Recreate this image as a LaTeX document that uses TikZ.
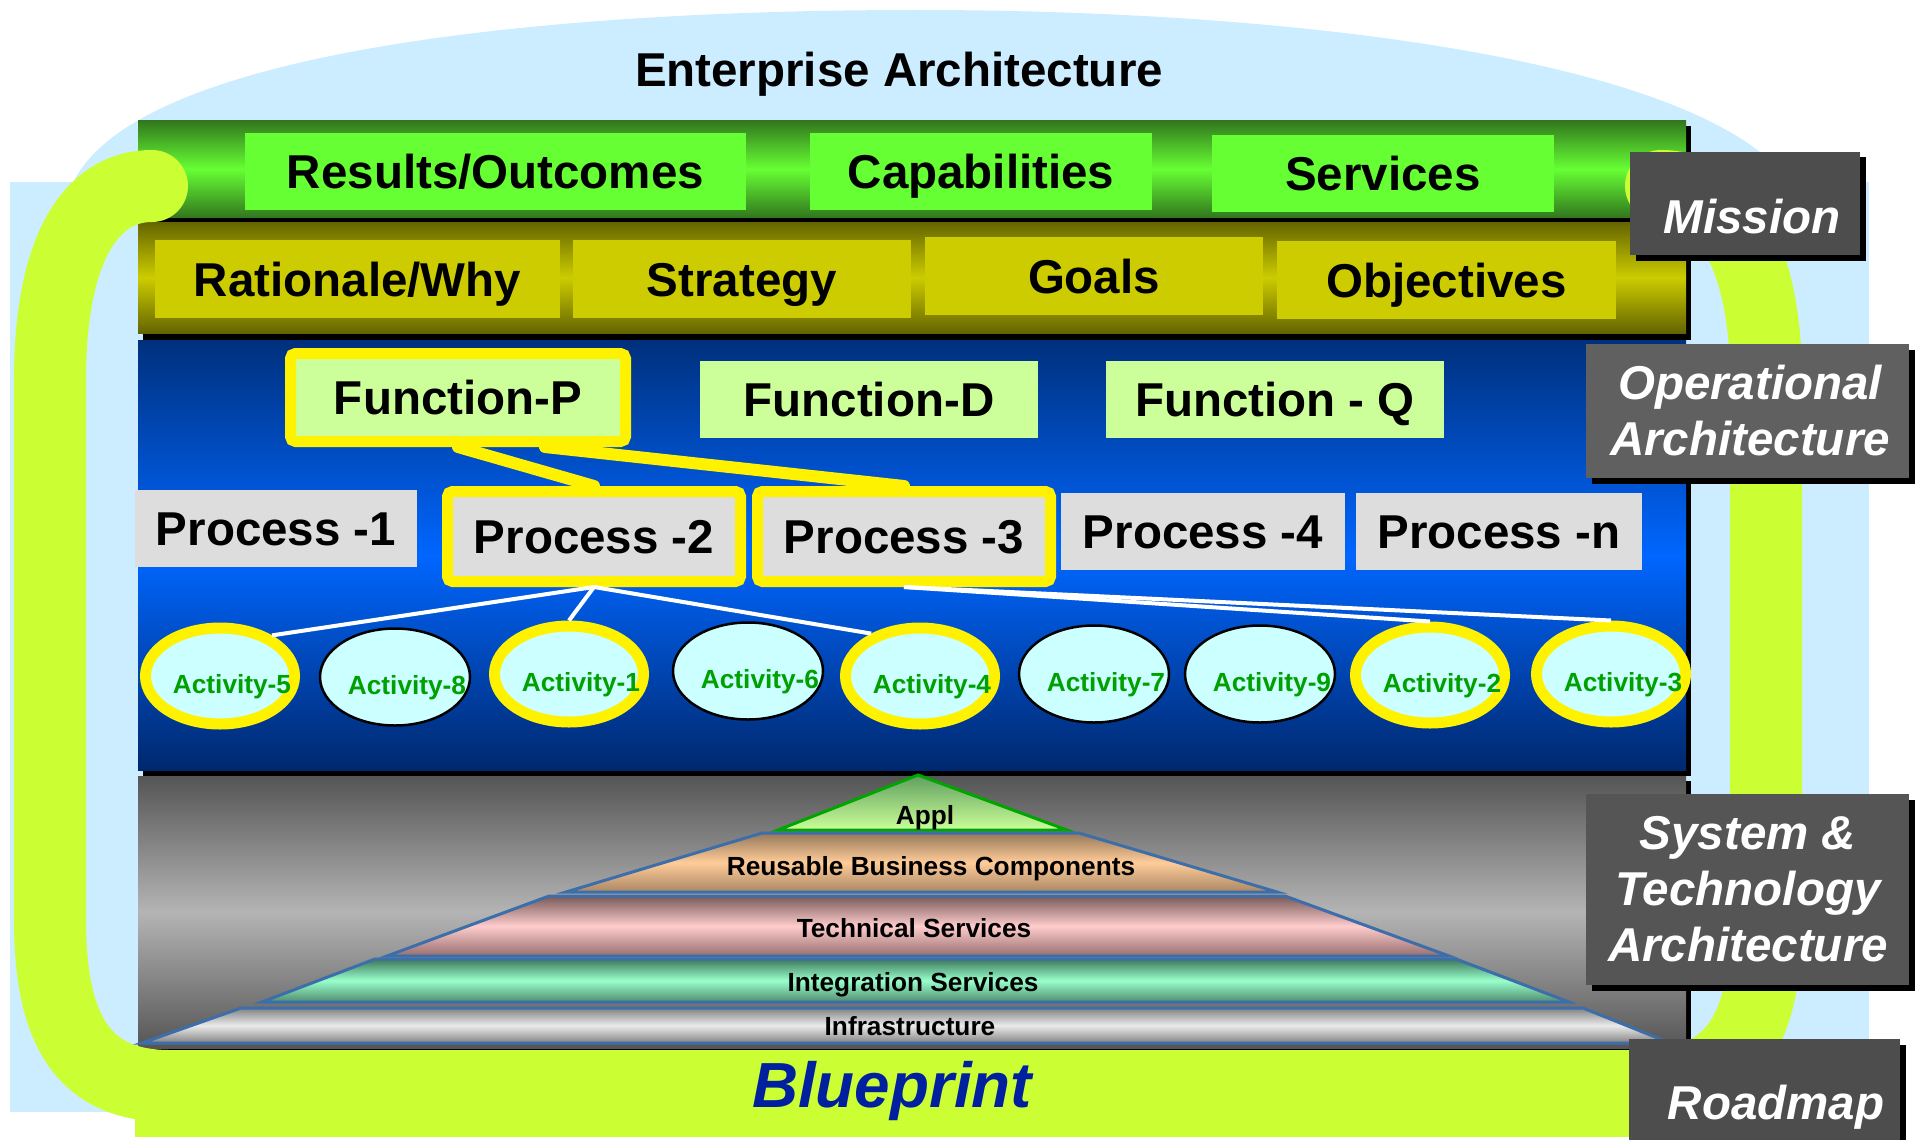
\documentclass[tikz,border=0pt]{standalone}
\usepackage{fontspec}
\setmainfont{Liberation Sans}
\usetikzlibrary{shapes.geometric,calc,shadows}

\definecolor{skyback}{RGB}{204,236,255}
\definecolor{loopgreen}{RGB}{204,255,51}
\definecolor{barlight}{RGB}{102,255,51}
\definecolor{bardark}{RGB}{50,120,30}
\definecolor{olivelight}{RGB}{204,204,0}
\definecolor{olivedark}{RGB}{100,100,0}
\definecolor{bluetop}{RGB}{0,48,125}
\definecolor{bluemid}{RGB}{0,102,255}
\definecolor{bluebot}{RGB}{0,40,110}
\definecolor{graydark}{RGB}{85,85,85}
\definecolor{graylight}{RGB}{180,180,180}
\definecolor{funcfill}{RGB}{204,255,153}
\definecolor{procfill}{RGB}{221,221,221}
\definecolor{actfill}{RGB}{204,255,255}
\definecolor{acttext}{RGB}{0,160,0}
\definecolor{pyredge}{RGB}{60,110,170}
\definecolor{printblue}{RGB}{0,32,160}
\definecolor{tagdark}{RGB}{77,77,77}
\definecolor{tagmid}{RGB}{96,96,96}
\definecolor{tagsys}{RGB}{85,85,85}

\tikzset{
  bigtext/.style={font=\fontsize{19}{22.4}\selectfont\bfseries, text height=13.6pt, text depth=0pt, inner sep=0pt},
  smalltext/.style={font=\fontsize{10.5}{12}\selectfont\bfseries, text height=7.5pt, text depth=0pt, inner sep=0pt},
  mbox/.style={bigtext, fill=barlight, minimum height=30.8pt},
  rbox/.style={bigtext, fill=olivelight, minimum height=31.2pt},
  fbox/.style={bigtext, fill=funcfill, minimum width=135.2pt, minimum height=30.8pt},
  fsel/.style={fbox, draw=yellow, line width=4.4pt, rounded corners=2pt, minimum width=134pt, minimum height=35.2pt},
  pbox/.style={bigtext, fill=procfill, minimum height=30.8pt},
  psel/.style={pbox, draw=yellow, line width=4.4pt, rounded corners=2pt, minimum width=117.2pt, minimum height=36pt},
  act/.style={ellipse, fill=actfill, draw=black, line width=1pt, minimum width=60pt, minimum height=38.8pt, inner sep=0pt},
  actsel/.style={act, draw=yellow, line width=4.4pt, minimum width=59.6pt, minimum height=38.4pt},
  acttxt/.style={smalltext, text=acttext, xshift=4.8pt, yshift=-3.2pt},
  fline/.style={yellow, line width=4.8pt, line cap=round},
  aline/.style={white, line width=1.6pt},
  layer/.style={draw=pyredge, line width=1.2pt},
  tagbox/.style={inner sep=0pt, general shadow={fill=black, shadow xshift=2.4pt, shadow yshift=-2.2pt}},
  tagtext/.style={text=white, font=\fontsize{19}{22.4}\selectfont\bfseries\itshape, align=center, inner sep=0pt}
}

\begin{document}
\begin{tikzpicture}[x=0.4pt, y=-0.4pt]
  % \draw[help lines, step=100] (0,0) grid (1917,1139);
  \useasboundingbox (0,0) rectangle (1917,1139);

  \fill[skyback] (67,400) -- (67,200) .. controls (100,60) and (500,10) .. (917,10) .. controls (1300,10) and (1700,60) .. (1790,182) -- (1790,400) -- cycle;
  \fill[skyback] (10,182) rectangle (1869,1112);
  \node[bigtext] (title) at (899,69.5) {Enterprise Architecture};

  \fill[black] (143,126) rectangle (1691,222);
  \fill[top color=bardark, bottom color=bardark, middle color=barlight] (138,121) rectangle (1686,217);
  \fill[black] (143,227) rectangle (1691,340);
  \fill[top color=olivedark, bottom color=olivedark, middle color=olivelight] (138,222) rectangle (1686,333);
  \fill[black] (143,345) rectangle (1691,776);
  \fill[top color=bluetop, bottom color=bluebot, middle color=bluemid] (138,340) rectangle (1686,770);
  \fill[black] (143,781) rectangle (1691,1053);
  \fill[top color=graydark, bottom color=graydark, middle color=graylight] (138,776) rectangle (1686,1048);

  \draw[loopgreen, line width=28.8pt, line cap=round] (152,186) .. controls (90,186) and (50,250) .. (50,380) -- (50,920) .. controls (50,1040) and (90,1086) .. (170,1086) -- (1640,1086) .. controls (1740,1086) and (1766,1020) .. (1766,920) -- (1766,380) .. controls (1766,250) and (1720,186) .. (1661,186);
  \fill[loopgreen] (135,1050) rectangle (1700,1137);
  \node[font=\fontsize{25.5}{30}\selectfont\bfseries\itshape, text=printblue, text height=18.3pt, text depth=0pt, inner sep=0pt] (blueprint) at (892,1085) {Blueprint};

  \node[mbox, minimum width=200.4pt] (results) at (495.5,171.5) {Results/Outcomes};
  \node[mbox, minimum width=136.8pt] (capab) at (981,171.5) {Capabilities};
  \node[mbox, minimum width=136.8pt] (services) at (1383,173.5) {Services};

  \node[rbox, minimum width=162pt] (rationale) at (357.5,279) {Rationale/Why};
  \node[rbox, minimum width=135.2pt] (strategy) at (742,279) {Strategy};
  \node[rbox, minimum width=135.2pt] (goals) at (1094,276) {Goals};
  \node[rbox, minimum width=135.6pt] (objectives) at (1446.5,280) {Objectives};

  \node[fsel] (fp) at (458,397.5) {Function-P};
  \node[fbox] (fd) at (869,399.5) {Function-D};
  \node[fbox] (fq) at (1275,399.5) {Function - Q};

  \node[pbox, minimum width=112.8pt] (p1) at (276,528.5) {Process -1};
  \node[psel] (p2) at (594,536.5) {Process -2};
  \node[psel] (p3) at (904,536.5) {Process -3};
  \node[pbox, minimum width=113.6pt] (p4) at (1203,531) {Process -4};
  \node[pbox, minimum width=114.4pt] (pn) at (1499,531) {Process -n};

  \draw[fline] (fp.south) -- (p2.north);
  \draw[fline] ($(fp.south)+(87,0)$) -- (p3.north);

  \node[actsel, label={[acttxt]center:Activity-5}] (a5) at (220,676) {};
  \node[act, label={[acttxt]center:Activity-8}] (a8) at (395,677) {};
  \node[actsel, label={[acttxt]center:Activity-1}] (a1) at (569,674) {};
  \node[act, label={[acttxt]center:Activity-6}] (a6) at (748,671) {};
  \node[actsel, label={[acttxt]center:Activity-4}] (a4) at (920,676) {};
  \node[act, label={[acttxt]center:Activity-7}] (a7) at (1094,674) {};
  \node[act, label={[acttxt]center:Activity-9}] (a9) at (1260,674) {};
  \node[actsel, label={[acttxt]center:Activity-2}] (a2) at (1430,675) {};
  \node[actsel, label={[acttxt]center:Activity-3}] (a3) at (1611,674) {};

  \draw[aline] (p2.south) -- (a5.38);
  \draw[aline] (p2.south) -- (a1.north);
  \draw[aline] (p2.south) -- (a4.139);
  \draw[aline] (p3.south) -- (a2.north);
  \draw[aline] (p3.south) -- (a3.north);

  \draw[layer, draw=green!65!black, top color=green!25!gray, bottom color=funcfill] (918,775) -- (1067,830) -- (778,830) -- cycle;
  \node[smalltext] (appl) at (925,815) {Appl};
  \draw[layer, top color={rgb,255:red,150;green,120;blue,90}, bottom color={rgb,255:red,170;green,135;blue,100}, middle color={rgb,255:red,255;green,204;blue,153}] (762,833) -- (1079,833) -- (1277,892) -- (566,892) -- cycle;
  \node[smalltext] (reuse) at (931,866.5) {Reusable Business Components};
  \draw[layer, top color={rgb,255:red,120;green,90;blue,90}, bottom color={rgb,255:red,150;green,110;blue,110}, middle color={rgb,255:red,255;green,204;blue,204}] (549,896) -- (1285,896) -- (1449,956) -- (387,956) -- cycle;
  \node[smalltext] (techsvc) at (914,928) {Technical Services};
  \draw[layer, top color={rgb,255:red,60;green,120;blue,90}, bottom color={rgb,255:red,80;green,140;blue,110}, middle color={rgb,255:red,153;green,255;blue,204}] (375,959) -- (1456,959) -- (1569,1002) -- (262,1002) -- cycle;
  \node[smalltext] (intsvc) at (913,982) {Integration Services};
  \draw[layer, top color={rgb,255:red,130;green,130;blue,130}, bottom color={rgb,255:red,130;green,130;blue,130}, middle color={rgb,255:red,235;green,235;blue,235}] (241,1008) -- (1583,1008) -- (1670,1043) -- (142,1043) -- cycle;
  \node[smalltext] (infra) at (910,1026) {Infrastructure};

  \node[tagbox, fill=tagdark, minimum width=92pt, minimum height=41.2pt] (mission) at (1745,203.5) {};
  \node[tagtext, text height=13.6pt, text depth=0pt] (missiontxt) at (1752,216.5) {Mission};
  \node[tagbox, fill=tagmid, minimum width=129.2pt, minimum height=53.6pt] (oparch) at (1747.5,411) {};
  \node[tagtext] (oparchtxt) at (1750,411) {Operational\\Architecture};
  \node[tagbox, fill=tagsys, minimum width=129.2pt, minimum height=76.4pt] (sysarch) at (1747.5,889.5) {};
  \node[tagtext] (sysarchtxt) at (1748,889) {System \&\\Technology\\Architecture};
  \node[tagbox, fill=tagdark, minimum width=108.4pt, minimum height=42.4pt] (roadmap) at (1764.5,1092) {};
  \node[tagtext, text height=13.6pt, text depth=0pt] (roadmaptxt) at (1776,1102) {Roadmap};
\end{tikzpicture}
\end{document}
